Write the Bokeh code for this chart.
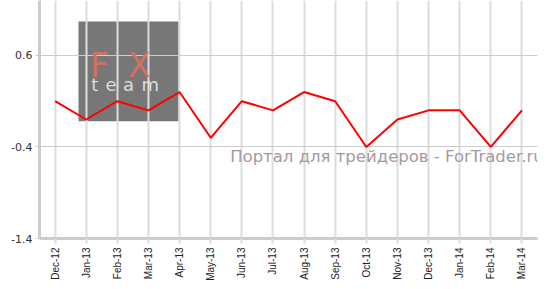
import math
from bokeh.plotting import figure
from bokeh.models import FixedTicker, BoxAnnotation, Label, Range1d
from bokeh.embed import file_html
from bokeh.resources import INLINE

months = ["Dec-12", "Jan-13", "Feb-13", "Mar-13", "Apr-13", "May-13", "Jun-13", "Jul-13",
          "Aug-13", "Sep-13", "Oct-13", "Nov-13", "Dec-13", "Jan-14", "Feb-14", "Mar-14"]
values = [0.1, -0.1, 0.1, 0.0, 0.2, -0.3, 0.1, 0.0,
          0.2, 0.1, -0.4, -0.1, 0.0, 0.0, -0.4, 0.0]
y_ticks = [-1.4, -0.4, 0.6]

p = figure(width=548, height=289, x_range=months, y_range=Range1d(-1.4, 1.2),
           output_backend="svg", toolbar_location=None,
           min_border_left=39, min_border_right=11, min_border_top=0, min_border_bottom=51)
p.outline_line_color = None
p.background_fill_color = "white"
p.border_fill_color = "white"

# logo box (behind grid)
p.add_layout(BoxAnnotation(left=1.253, right=4.466, bottom=-0.119, top=0.971,
                           fill_color="#777777", fill_alpha=1.0, line_alpha=0, level="image"))
for ch, xs in (("F", 1.62), ("X", 2.84)):
    p.add_layout(Label(x=xs, y=0.49, text=ch, text_color="#d3705e", text_font="DejaVu Sans",
                       text_font_size="33px", text_baseline="alphabetic", level="underlay"))
for ch, xs in (("t", 1.66), ("e", 2.12), ("a", 2.68), ("m", 3.28)):
    p.add_layout(Label(x=xs, y=0.285, text=ch, text_color="#dcdcdc", text_font="DejaVu Sans",
                       text_font_size="18px", text_baseline="alphabetic", level="underlay"))

p.line(months, values, line_color="#ff0000", line_width=2)

p.add_layout(Label(x=16.2, y=-0.505, text="Портал для трейдеров - ForTrader.ru",
                   text_color="#a89a9b", text_font="DejaVu Sans", text_font_size="16.5px",
                   text_align="right", text_baseline="middle"))

p.yaxis.ticker = FixedTicker(ticks=y_ticks)
p.yaxis.major_label_overrides = {t: f"{t:.1f}" for t in y_ticks}
p.yaxis.minor_tick_line_color = None
p.yaxis.major_tick_in = 0
p.yaxis.major_tick_out = 4
p.yaxis.major_tick_line_color = "#cccccc"
p.yaxis.axis_line_color = "#cccccc"
p.yaxis.axis_line_width = 3
p.yaxis.major_label_text_font = "DejaVu Sans"
p.yaxis.major_label_text_font_size = "11px"
p.yaxis.major_label_text_color = "#333333"
p.yaxis.major_label_standoff = 3

p.xaxis.major_tick_in = 0
p.xaxis.major_tick_out = 5
p.xaxis.major_tick_line_color = "#dddddd"
p.xaxis.major_tick_line_width = 2
p.xaxis.axis_line_color = "#cccccc"
p.xaxis.axis_line_width = 3
p.xaxis.major_label_orientation = math.pi / 2
p.xaxis.major_label_text_font = "Liberation Sans"
p.xaxis.major_label_text_font_size = "10px"
p.xaxis.major_label_text_color = "#222222"
p.xaxis.major_label_standoff = 4

p.xgrid.grid_line_color = "#dcdcdc"
p.xgrid.grid_line_width = 2
p.ygrid.ticker = FixedTicker(ticks=y_ticks)
p.ygrid.grid_line_color = "#cccccc"
p.ygrid.grid_line_width = 1

open("out.html", "w").write(file_html(p, INLINE))
